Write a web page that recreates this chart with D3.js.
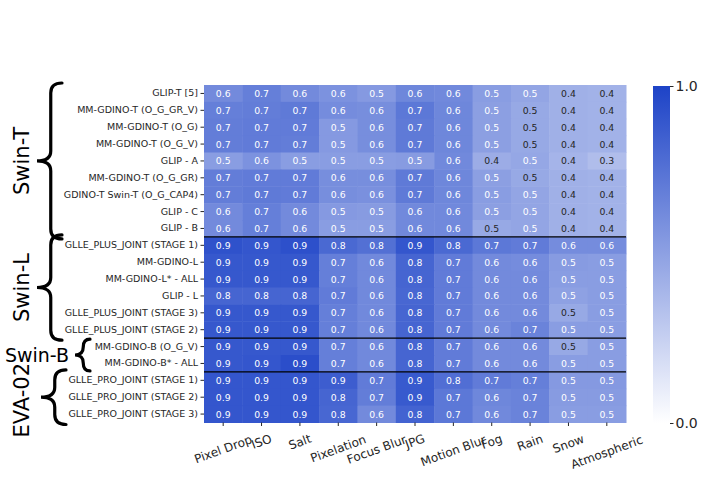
<!DOCTYPE html>
<html>
<head>
<meta charset="utf-8">
<script src="https://cdn.jsdelivr.net/npm/d3@7"></script>
<style>
  body { margin: 0; background: #fff; }
  text { font-family: "DejaVu Sans", sans-serif; }
</style>
</head>
<body>
<script>
// column labels (corruption types)
var corruptions = ["Pixel Drop", "ISO", "Salt", "Pixelation", "Focus Blur", "JPG",
                   "Motion Blur", "Fog", "Rain", "Snow", "Atmospheric"];

// row labels
var models = ["GLIP-T [5]", "MM-GDINO-T (O_G_GR_V)", "MM-GDINO-T (O_G)", "MM-GDINO-T  (O_G_V)",
              "GLIP - A ", "MM-GDINO-T (O_G_GR)", "GDINO-T Swin-T (O_G_CAP4)", "GLIP - C", "GLIP - B",
              "GLLE_PLUS_JOINT (STAGE 1)", "MM-GDINO-L", "MM-GDINO-L* - ALL", "GLIP - L",
              "GLLE_PLUS_JOINT (STAGE 3)", "GLLE_PLUS_JOINT (STAGE 2)",
              "MM-GDINO-B (O_G_V)", "MM-GDINO-B* - ALL ",
              "GLLE_PRO_JOINT (STAGE 1)", "GLLE_PRO_JOINT (STAGE 2)", "GLLE_PRO_JOINT (STAGE 3)"];

// backbone groups
var groupNames = ["Swin-T", "Swin-L", "Swin-B", "EVA-02"];
var groupSizes = [9, 6, 2, 3];

// scores per backbone (rows x corruptions)
var swinT = [
  [0.62, 0.68, 0.62, 0.58, 0.54, 0.64, 0.63, 0.52, 0.48, 0.42, 0.41],
  [0.68, 0.69, 0.71, 0.61, 0.60, 0.72, 0.64, 0.51, 0.46, 0.42, 0.41],
  [0.69, 0.70, 0.70, 0.54, 0.60, 0.71, 0.64, 0.51, 0.46, 0.42, 0.41],
  [0.69, 0.70, 0.69, 0.54, 0.60, 0.71, 0.64, 0.51, 0.46, 0.42, 0.41],
  [0.52, 0.58, 0.52, 0.52, 0.52, 0.53, 0.63, 0.44, 0.47, 0.40, 0.35],
  [0.69, 0.70, 0.70, 0.60, 0.60, 0.71, 0.64, 0.51, 0.46, 0.42, 0.41],
  [0.69, 0.71, 0.70, 0.60, 0.59, 0.71, 0.64, 0.52, 0.48, 0.42, 0.41],
  [0.62, 0.68, 0.62, 0.54, 0.53, 0.63, 0.63, 0.51, 0.48, 0.42, 0.41],
  [0.62, 0.68, 0.62, 0.52, 0.52, 0.63, 0.63, 0.46, 0.48, 0.42, 0.41]
];
var swinL = [
  [0.92, 0.90, 0.93, 0.80, 0.76, 0.90, 0.80, 0.72, 0.70, 0.61, 0.61],
  [0.89, 0.89, 0.89, 0.68, 0.63, 0.82, 0.70, 0.62, 0.61, 0.53, 0.52],
  [0.89, 0.89, 0.89, 0.68, 0.63, 0.82, 0.70, 0.62, 0.62, 0.52, 0.52],
  [0.82, 0.82, 0.82, 0.70, 0.63, 0.81, 0.70, 0.62, 0.62, 0.50, 0.52],
  [0.89, 0.89, 0.89, 0.68, 0.63, 0.82, 0.70, 0.62, 0.62, 0.46, 0.52],
  [0.89, 0.89, 0.89, 0.68, 0.63, 0.82, 0.70, 0.62, 0.66, 0.52, 0.52]
];
var swinB = [
  [0.89, 0.89, 0.89, 0.68, 0.63, 0.82, 0.70, 0.62, 0.62, 0.46, 0.52],
  [0.89, 0.90, 0.94, 0.68, 0.63, 0.82, 0.70, 0.62, 0.62, 0.52, 0.52]
];
var eva02 = [
  [0.90, 0.90, 0.90, 0.86, 0.70, 0.88, 0.77, 0.70, 0.68, 0.54, 0.54],
  [0.90, 0.90, 0.90, 0.82, 0.69, 0.88, 0.72, 0.64, 0.66, 0.53, 0.53],
  [0.90, 0.90, 0.90, 0.81, 0.62, 0.83, 0.72, 0.63, 0.66, 0.52, 0.52]
];
var colorbarTicks = [0, 1];

(function(){
    var width = 703, height = 492;
    var left = 204, top = 85, right = 626, bottom = 422.5;

    var svg = d3.select("body").append("svg")
        .attr("width", width)
        .attr("height", height);

    var scores = swinT.concat(swinL, swinB, eva02);

    //flatten into cells
    var cells = [];
    scores.forEach(function(row, i){
        row.forEach(function(v, j){
            cells.push({row: models[i], col: corruptions[j], value: v});
        });
    });

    var x = d3.scaleBand().domain(corruptions).range([left, right]);
    var y = d3.scaleBand().domain(models).range([top, bottom]);
    var color = d3.scaleLinear().domain([0, 1])
        .range(["#ffffff", "#1d43c7"]).interpolate(d3.interpolateRgb);
    var fmt = d3.format(".1f");

    //cells
    svg.append("g").selectAll("rect")
        .data(cells).enter().append("rect")
        .attr("x", function(d){ return x(d.col); })
        .attr("y", function(d){ return y(d.row); })
        .attr("width", x.bandwidth() + 0.5)
        .attr("height", y.bandwidth() + 0.5)
        .style("fill", function(d){ return color(d.value); });

    //annotations
    svg.append("g").selectAll("text")
        .data(cells).enter().append("text")
        .attr("x", function(d){ return x(d.col) + x.bandwidth() / 2; })
        .attr("y", function(d){ return y(d.row) + y.bandwidth() / 2; })
        .attr("text-anchor", "middle")
        .attr("dominant-baseline", "central")
        .style("font-size", "9.3px")
        .style("fill", function(d){ return d.value < 0.465 ? "#262626" : "#ffffff"; })
        .text(function(d){ return fmt(d.value); });

    //group separators
    var cum = Array.from(d3.cumsum(groupSizes));
    svg.append("g").selectAll("line")
        .data(cum.slice(0, -1)).enter().append("line")
        .attr("x1", left).attr("x2", right)
        .attr("y1", function(d){ return y(models[d]); })
        .attr("y2", function(d){ return y(models[d]); })
        .style("stroke", "#000").style("stroke-width", 1.4);

    //y axis
    var yAxis = svg.append("g")
        .attr("transform", "translate(" + left + ",0)")
        .call(d3.axisLeft(y).tickSize(3.5).tickPadding(2.5));
    yAxis.select(".domain").remove();
    yAxis.selectAll("text").style("font-size", "9.5px").style("fill", "#262626")
        .attr("font-family", "DejaVu Sans");
    yAxis.selectAll("line").style("stroke", "#262626");

    //x axis, labels rotated 20deg, top of rotated box under the tick
    var xFont = 12;
    var ctx = document.createElement("canvas").getContext("2d");
    ctx.font = xFont + "px 'DejaVu Sans'";
    var xAxis = svg.append("g")
        .attr("transform", "translate(0," + bottom + ")")
        .call(d3.axisBottom(x).tickSize(3.5));
    xAxis.select(".domain").remove();
    xAxis.selectAll("line").style("stroke", "#262626");
    var ang = 20 * Math.PI / 180;
    xAxis.selectAll("text")
        .style("font-size", xFont + "px").style("fill", "#262626")
        .attr("font-family", "DejaVu Sans")
        .attr("dy", null)
        .attr("y", 0)
        .attr("text-anchor", "middle")
        .attr("dominant-baseline", "central")
        .attr("transform", function(d){
            var w = ctx.measureText(d).width;
            var h = xFont * 1.15;
            var cy = 8 + 1.12 * (w * Math.sin(ang) + h * Math.cos(ang)) / 2;
            return "translate(0," + cy + ") rotate(-20)";
        });

    //colorbar
    var cbX = 653, cbW = 17, cbTop = 86, cbBottom = 423;
    var grad = svg.append("defs").append("linearGradient")
        .attr("id", "cbgrad").attr("x1", 0).attr("y1", 1).attr("x2", 0).attr("y2", 0);
    grad.append("stop").attr("offset", "0%").attr("stop-color", color(0));
    grad.append("stop").attr("offset", "100%").attr("stop-color", color(1));
    svg.append("rect")
        .attr("x", cbX).attr("y", cbTop)
        .attr("width", cbW).attr("height", cbBottom - cbTop)
        .style("fill", "url(#cbgrad)");
    var cbScale = d3.scaleLinear().domain([0, 1]).range([cbBottom, cbTop]);
    var cbAxis = svg.append("g")
        .attr("transform", "translate(" + (cbX + cbW) + ",0)")
        .call(d3.axisRight(cbScale).tickValues(colorbarTicks).tickFormat(d3.format(".1f"))
            .tickSize(3.5).tickPadding(2));
    cbAxis.select(".domain").remove();
    cbAxis.selectAll("line").style("stroke", "#262626");
    cbAxis.selectAll("text").style("font-size", "14px").style("fill", "#262626")
        .attr("font-family", "DejaVu Sans");

    //curly brace path, tip pointing left
    function brace(xEnd, y0, y1, depth){
        var xs = xEnd - depth * 0.45, xt = xEnd - depth;
        var ym = (y0 + y1) / 2;
        var r = Math.min(10, (y1 - y0) / 4);
        return "M" + xEnd + "," + y0 +
            " Q" + xs + "," + y0 + " " + xs + "," + (y0 + r) +
            " L" + xs + "," + (ym - r) +
            " Q" + xs + "," + ym + " " + xt + "," + ym +
            " Q" + xs + "," + ym + " " + xs + "," + (ym + r) +
            " L" + xs + "," + (y1 - r) +
            " Q" + xs + "," + y1 + " " + xEnd + "," + y1;
    }

    var starts = [0].concat(cum.slice(0, -1));
    groupNames.forEach(function(name, g){
        var y0 = y(models[starts[g]]) - 2;
        var y1 = y(models[cum[g] - 1]) + y.bandwidth() + 2;
        var small = groupSizes[g] < 3;
        var xEnd = small ? 90 : (name === "EVA-02" ? 66 : 62);
        var depth = small ? 15 : 25;
        svg.append("path")
            .attr("d", brace(xEnd, y0 + (small ? 3 : 0), y1 - (small ? 3 : 0), depth))
            .style("fill", "none").style("stroke", "#000")
            .style("stroke-width", 3.2).style("stroke-linecap", "round");
        var ym = (y0 + y1) / 2;
        if (small){
            svg.append("text")
                .attr("x", 37).attr("y", ym)
                .attr("text-anchor", "middle").attr("dominant-baseline", "central")
                .style("font-size", "19px").style("fill", "#000")
                .text(name);
        } else {
            svg.append("text")
                .attr("transform", "translate(22," + (name === "EVA-02" ? ym + 3 : ym) + ") rotate(-90)")
                .attr("text-anchor", "middle").attr("dominant-baseline", "central")
                .style("font-size", "21px").style("fill", "#000")
                .text(name);
        }
    });
})();
</script>
</body>
</html>
